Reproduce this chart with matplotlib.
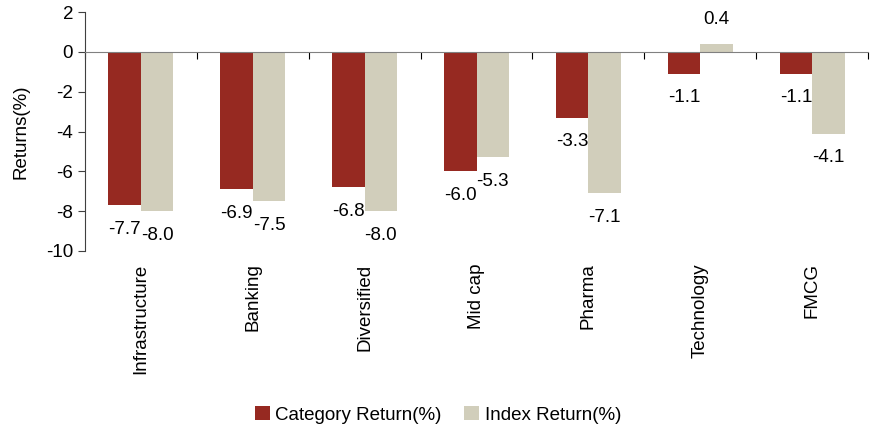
import matplotlib
matplotlib.use('Agg')
import matplotlib.pyplot as plt
import numpy as np

# Chart data
categories = ['Infrastructure', 'Banking', 'Diversified', 'Mid cap', 'Pharma', 'Technology', 'FMCG']
category_return = [-7.7, -6.9, -6.8, -6.0, -3.3, -1.1, -1.1]
index_return = [-8.0, -7.5, -8.0, -5.3, -7.1, 0.4, -4.1]

plt.rcParams['font.family'] = ['Liberation Sans Narrow', 'Liberation Sans', 'DejaVu Sans']
plt.rcParams['font.size'] = 13.5
plt.rcParams['axes.unicode_minus'] = False

red = '#962921'
grey = '#d1cebb'

fig = plt.figure(figsize=(8.76, 4.32), dpi=100)
ax = fig.add_axes([0.097, 0.419, 0.894, 0.553])

x = np.arange(len(categories))
w = 0.29
b1 = ax.bar(x - w / 2, category_return, w, color=red, label='Category Return(%)')
b2 = ax.bar(x + w / 2, index_return, w, color=grey, label='Index Return(%)')

# value labels, placed a fixed distance beyond the bar end
for bars, vals in ((b1, category_return), (b2, index_return)):
    for rect, v in zip(bars, vals):
        off = 17.3 if v > 0 else -17.3
        ax.annotate(f'{v:.1f}', (rect.get_x() + rect.get_width() / 2, v),
                    xytext=(0, off), textcoords='offset points',
                    ha='center', va='center')

ax.set_xlim(-0.5, len(categories) - 0.5)
ax.set_ylim(-10, 2)
ax.set_yticks(range(-10, 3, 2))
ax.set_ylabel('Returns(%)', labelpad=12)

# x axis line at zero with ticks between the categories
ax.spines['top'].set_visible(False)
ax.spines['right'].set_visible(False)
ax.spines['bottom'].set_position(('data', 0))
ax.spines['bottom'].set_color('#808080')
ax.spines['left'].set_color('#404040')
ax.set_xticks(np.arange(len(categories) + 1) - 0.5)
ax.set_xticklabels([])
ax.tick_params(axis='x', direction='out', length=5, color='black')
ax.tick_params(axis='y', direction='out', length=5, color='#404040')

# category names below the plot area
sec = ax.secondary_xaxis(0.0)
sec.set_xticks(x)
sec.set_xticklabels(categories, rotation=90)
sec.tick_params(length=0, pad=9)
sec.spines['bottom'].set_visible(False)

fig.legend(handles=[b1, b2], loc='lower center', bbox_to_anchor=(0.5, -0.02),
           ncol=2, frameon=False, handlelength=0.8, handleheight=0.8,
           handletextpad=0.3, columnspacing=1.2)

fig.savefig('out.png', dpi=100)
